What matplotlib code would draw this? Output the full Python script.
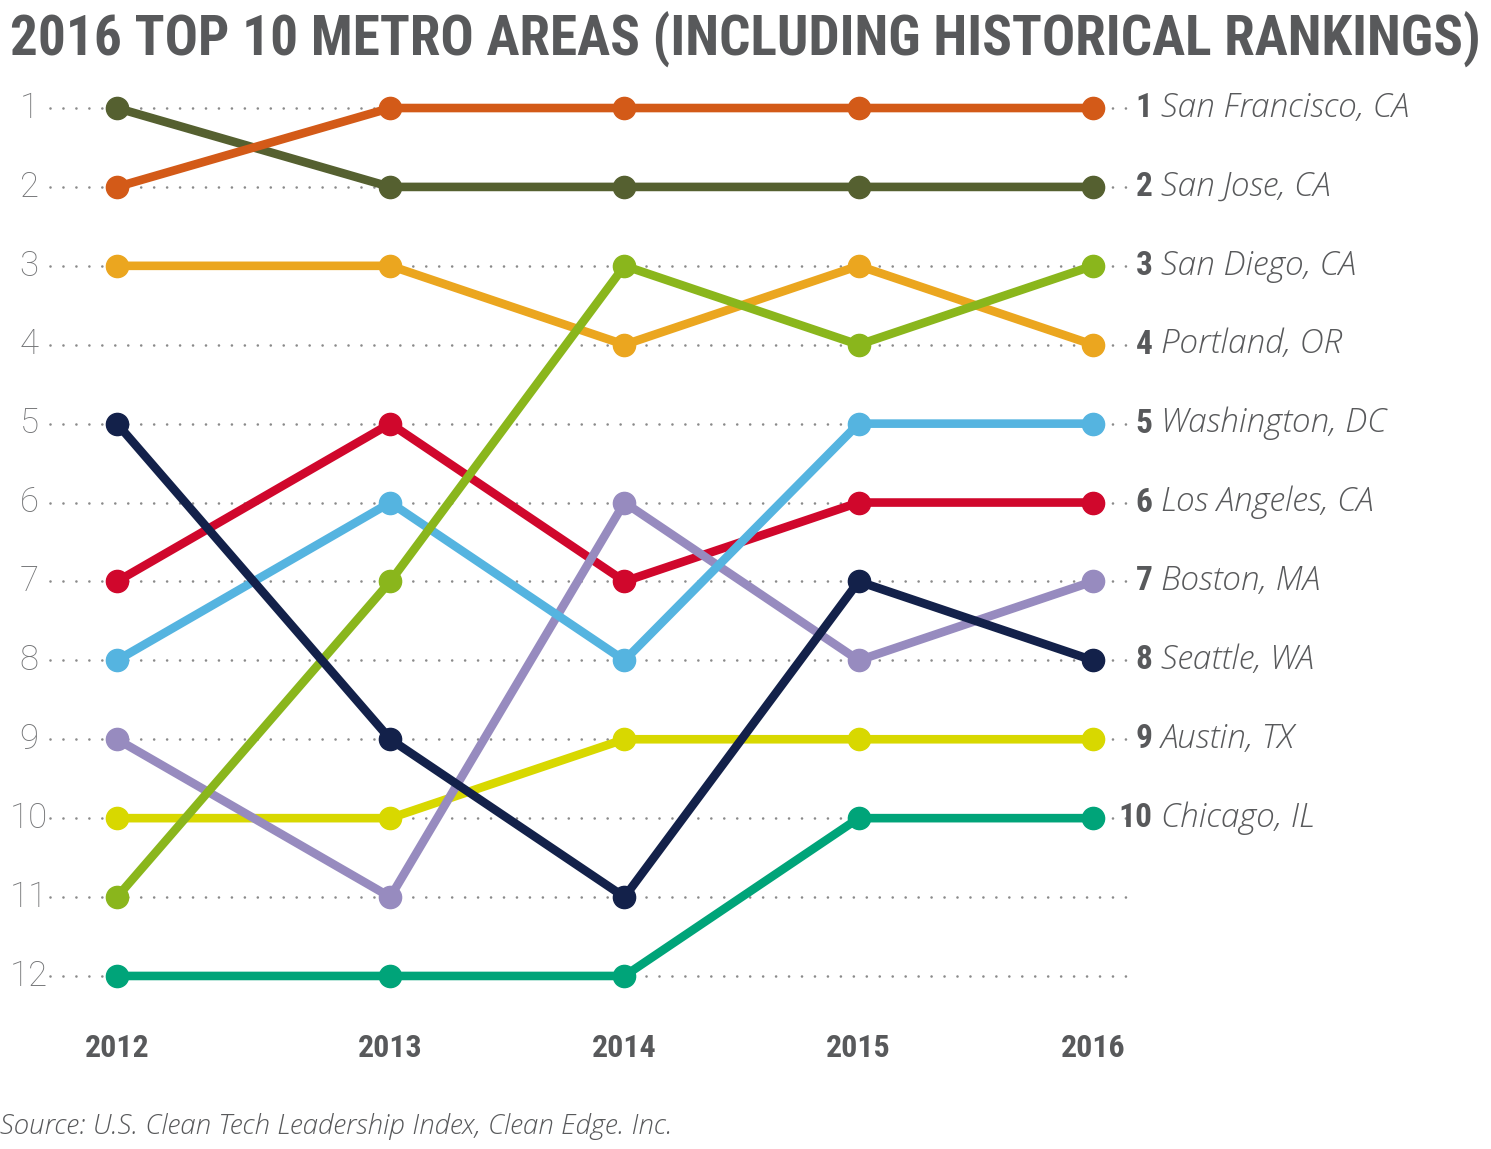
import matplotlib
matplotlib.use('Agg')
import matplotlib.pyplot as plt
from matplotlib import font_manager

# data
years = ['2012', '2013', '2014', '2015', '2016']
metros = ['San Francisco, CA', 'San Jose, CA', 'San Diego, CA', 'Portland, OR',
          'Washington, DC', 'Los Angeles, CA', 'Boston, MA', 'Seattle, WA',
          'Austin, TX', 'Chicago, IL']
san_francisco = [2, 1, 1, 1, 1]
san_jose = [1, 2, 2, 2, 2]
san_diego = [11, 7, 3, 4, 3]
portland = [3, 3, 4, 3, 4]
washington = [8, 6, 8, 5, 5]
los_angeles = [7, 5, 7, 6, 6]
boston = [9, 11, 6, 8, 7]
seattle = [5, 9, 11, 7, 8]
austin = [10, 10, 9, 9, 9]
chicago = [12, 12, 12, 10, 10]
ranks = list(range(1, 13))

series = [san_francisco, san_jose, san_diego, portland, washington,
          los_angeles, boston, seattle, austin, chicago]
colours = ['#D35A18', '#556030', '#8AB61C', '#EBA61F', '#55B4E0',
           '#D0072C', '#978BBF', '#13214A', '#D8D800', '#00A479']
# drawing order, bottom first
zorders = [10, 9, 7, 3, 6, 4, 5, 8, 2, 1]

# layout: first gap is a bit wider than the others
xpos = [0, 1.167, 2.167, 3.167, 4.167]

txt = '#58595B'

# condensed bold face for the headings, if there is one
names = set(f.name for f in font_manager.fontManager.ttflist)
cond = 'DejaVu Sans'
for cand in ['Roboto Condensed', 'Liberation Sans Narrow', 'Open Sans Condensed']:
    if cand in names:
        cond = cand
        break
cond_stretch = 'condensed'

fig = plt.figure(figsize=(14.91, 11.49), dpi=100)
ax = fig.add_axes([0, 0, 1, 1])
ax.set_xlim(-0.4996, 5.867)
ax.set_ylim(14.193, -0.369)
ax.axis('off')

# dotted rank guides
ax.hlines(ranks, -0.286, 4.325, colors='#8a8a8a', lw=1.9,
          linestyles=[(0, (0.01, 4.9))], capstyle='round', zorder=0)
for r in ranks:
    ax.text(-0.375, r, str(r), ha='center', va='center', fontsize=25,
            color='#747577', family='Roboto', fontweight='light')

for vals, c, z in zip(series, colours, zorders):
    ax.plot(xpos, vals, color=c, lw=6.2, marker='o', ms=16, mec=c, mfc=c,
            solid_capstyle='round', zorder=z + 1)

for name, vals in zip(metros, series):
    r = vals[-1]
    ax.annotate(str(r), (xpos[-1], r), xytext=(43, 0), textcoords='offset points',
                ha='right', va='center', fontsize=24, fontweight='bold',
                color=txt, family=cond, fontstretch=cond_stretch)
    ax.annotate(name, (xpos[-1], r), xytext=(49, 0), textcoords='offset points',
                ha='left', va='center', fontsize=24, fontstyle='italic',
                color=txt, family='Open Sans', fontweight='light')

for x, y in zip(xpos, years):
    ax.text(x, 12.91, y, ha='center', va='center', fontsize=23,
            fontweight='bold', color=txt, family=cond, fontstretch=cond_stretch)

title = fig.text(0.007, 0.966, '2016 TOP 10 METRO AREAS (INCLUDING HISTORICAL RANKINGS)',
                 ha='left', va='center', fontsize=40, fontweight='bold', color=txt,
                 family=cond, fontstretch=cond_stretch)
# shrink the title so it spans the width like the original
fig.canvas.draw()
w = title.get_window_extent().width
title.set_fontsize(40 * 1470.0 / w)

fig.text(0.0, 0.02, 'Source: U.S. Clean Tech Leadership Index, Clean Edge. Inc.',
         ha='left', va='center', fontsize=20, fontstyle='italic', color=txt,
         family='Open Sans', fontweight='light')

plt.savefig('out.png', dpi=100)
